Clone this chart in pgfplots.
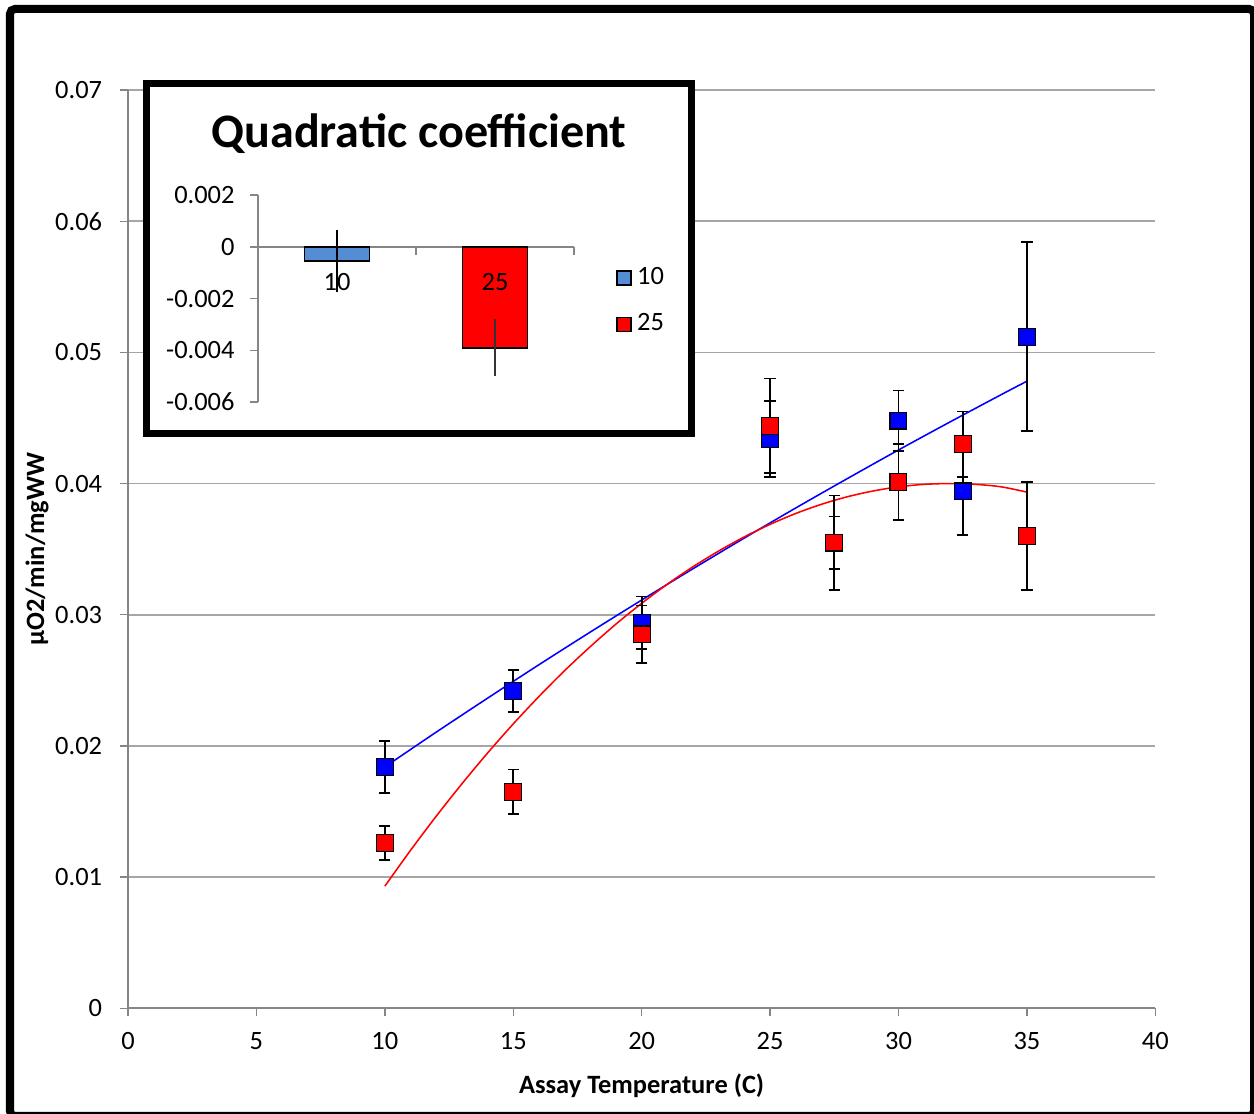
\documentclass[border=0pt]{standalone}
\usepackage{pgfplots}
\pgfplotsset{compat=1.18}
\usepackage{pgfplotstable}
\usepackage{fontspec}
\setmainfont{Carlito}
\definecolor{bluept}{RGB}{0,0,255}
\definecolor{redpt}{RGB}{255,0,0}
\definecolor{barblue}{RGB}{84,141,212}
\definecolor{gridgray}{RGB}{166,166,166}
\definecolor{axgray}{RGB}{134,134,134}
\newcommand{\tickfont}{\fontsize{9.4}{11}\selectfont}

\pgfplotstableread{
x y e
10 0.0184 0.0020
15 0.0242 0.0016
20 0.0294 0.0020
25 0.0434 0.0029
30 0.0448 0.0023
32.5 0.0394 0.0033
35 0.0512 0.0072
}\bluedata

\pgfplotstableread{
x y e
10 0.0126 0.0013
15 0.0165 0.0017
20 0.0285 0.0022
25 0.0444 0.0036
27.5 0.0355 0.0036
30 0.0401 0.0029
32.5 0.0430 0.0025
35 0.0360 0.0041
}\reddata

\pgfplotstableread{
x y e
27.5 0.0355 0.0020
}\redextra

\begin{document}
\begin{tikzpicture}[x=0.0125cm,y=-0.0125cm]
\begin{axis}[
  at={(1.6cm,-12.6cm)}, anchor=south west,
  scale only axis, width=12.8375cm, height=11.475cm,
  xmin=0, xmax=40, ymin=0, ymax=0.07,
  axis lines*=left,
  xtick={0,5,10,15,20,25,30,35,40},
  xticklabels={0,5,10,15,20,25,30,35,40},
  ytick={0,0.01,0.02,0.03,0.04,0.05,0.06,0.07},
  yticklabels={0,0.01,0.02,0.03,0.04,0.05,0.06,0.07},
  scaled ticks=false,
  tick align=outside, major tick length=0.1cm,
  tick style={axgray, line width=0.5pt},
  axis line style={axgray, line width=0.6pt},
  ymajorgrids, major grid style={gridgray, line width=0.6pt},
  ticklabel style={font=\tickfont},
  yticklabel style={xshift=-0.1cm},
  xticklabel style={yshift=-0.075cm},
  /pgf/number format/assume math mode=true,
  xlabel={Assay Temperature (C)},
  ylabel={μO2/min/mgWW},
  label style={font=\bfseries\tickfont},
  xlabel style={at={(axis description cs:0.5,-0.0926)}, anchor=base},
  ylabel style={at={(axis description cs:-0.0818,0.5)}, anchor=base},
]
\addplot[bluept, line width=0.55pt, smooth, no marks] coordinates {
(10,0.0184)(12,0.02105)(14,0.02364)(16,0.02619)(18,0.02868)(20,0.03112)(22,0.03351)(24,0.03585)(26,0.03814)(28,0.04037)(30,0.04256)(32,0.04469)(34,0.04678)(35,0.0478)};
\addplot[redpt, line width=0.55pt, smooth, no marks] coordinates {
(10,0.00931)(11,0.01204)(12,0.01464)(13,0.01711)(14,0.01946)(15,0.02168)(16,0.02377)(17,0.02574)(18,0.02757)(19,0.02929)(20,0.03087)(21,0.03233)(22,0.03366)(23,0.03486)(24,0.03594)(25,0.03689)(26,0.03772)(27,0.03842)(28,0.03899)(29,0.03943)(30,0.03975)(31,0.03994)(32,0.04000)(33,0.03994)(34,0.03975)(35,0.03935)};
\addplot[only marks, mark=square*, mark size=3pt,
  mark options={fill=bluept, draw=black, line width=0.4pt},
  error bars/.cd, y dir=both, y explicit,
  error bar style={black, line width=0.6pt},
  error mark=-,
  error mark options={rotate=90, black, mark size=2pt, line width=0.6pt}]
  table[x=x, y=y, y error=e] {\bluedata};
\addplot[only marks, mark=square*, mark size=3pt,
  mark options={fill=redpt, draw=black, line width=0.4pt},
  error bars/.cd, y dir=both, y explicit,
  error bar style={black, line width=0.6pt},
  error mark=-,
  error mark options={rotate=90, black, mark size=2pt, line width=0.6pt}]
  table[x=x, y=y, y error=e] {\redextra};
\addplot[only marks, mark=square*, mark size=3pt,
  mark options={fill=redpt, draw=black, line width=0.4pt},
  error bars/.cd, y dir=both, y explicit,
  error bar style={black, line width=0.6pt},
  error mark=-,
  error mark options={rotate=90, black, mark size=2pt, line width=0.6pt}]
  table[x=x, y=y, y error=e] {\reddata};
\end{axis}

% inset
\draw[line width=0.0875cm, fill=white] (146,83.5) rectangle (691,433.5);
\node[anchor=base, font=\bfseries\fontsize{17.1}{20}\selectfont] at (419,148) {Quadratic coefficient};

\begin{axis}[
  at={(3.225cm,-5.025cm)}, anchor=south west,
  scale only axis, width=3.95cm, height=2.5875cm,
  xmin=-0.5, xmax=1.5, ymin=-0.006, ymax=0.002,
  axis x line*=middle, axis y line*=left,
  hide obscured x ticks=false, hide obscured y ticks=false,
  xtick={-0.5,0.5,1.5}, xticklabels={},
  ytick={-0.006,-0.004,-0.002,0,0.002},
  yticklabels={-0.006,-0.004,-0.002,0,0.002},
  scaled ticks=false,
  tick align=outside, major tick length=0.1cm,
  tick style={axgray, line width=0.5pt},
  axis line style={axgray, line width=0.6pt},
  ticklabel style={font=\tickfont},
  yticklabel style={xshift=-0.07cm},
  legend style={at={(1.13,0.68)}, anchor=north west, draw=none, fill=none,
    font=\tickfont, row sep=0.17cm, inner sep=0pt},
  legend cell align=left,
]
\addplot[ybar, bar width=0.8125cm, bar shift=0pt, fill=barblue, draw=black, line width=0.6pt,
  legend image code/.code={\draw[fill=barblue,draw=black,line width=0.6pt] (0cm,-0.0875cm) rectangle (0.175cm,0.0875cm);},
  error bars/.cd, y dir=both, y explicit, error mark=none,
  error bar style={black, line width=0.5pt}]
  coordinates {(0,-0.00055) +- (0,0.0012)};
\addlegendentry{10}
\addplot[ybar, bar width=0.8125cm, bar shift=0pt, fill=redpt, draw=black, line width=0.6pt,
  legend image code/.code={\draw[fill=redpt,draw=black,line width=0.6pt] (0cm,-0.0875cm) rectangle (0.175cm,0.0875cm);},
  error bars/.cd, y dir=both, y explicit, error mark=none,
  error bar style={black!80, line width=0.5pt}]
  coordinates {(1,-0.0039) +- (0,0.0011)};
\addlegendentry{25}
\node[font=\tickfont] at (axis cs:0,-0.00136) {10};
\node[font=\tickfont] at (axis cs:1,-0.00136) {25};
\end{axis}

\draw[line width=0.1cm, rounded corners=0.06cm] (10,9) rectangle (1254,1116);
\pgfresetboundingbox
\path[use as bounding box] (0,0) rectangle (1254,1114);
\end{tikzpicture}
\end{document}
